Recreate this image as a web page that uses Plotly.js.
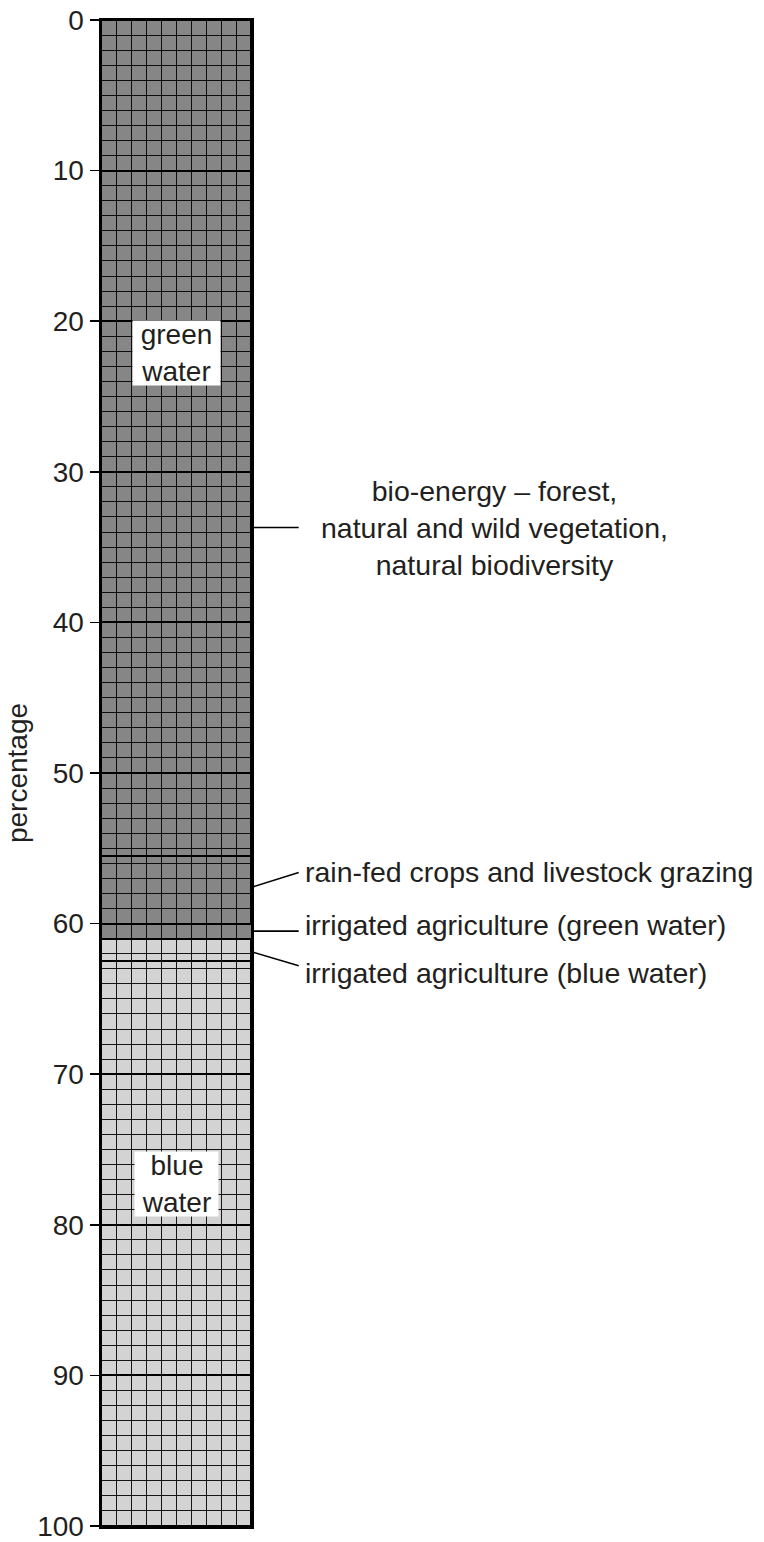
<!DOCTYPE html>
<html>
<head>
<meta charset="utf-8">
<script src="https://cdn.plot.ly/plotly-3.0.1.min.js"></script>
<style>html,body{margin:0;padding:0;background:#fff;}</style>
</head>
<body>
<div id="chart" style="width:764px;height:1542px;"></div>
<script>
// ---- data ----
const segmentNames = [
  'bio-energy – forest, natural and wild vegetation, natural biodiversity',
  'rain-fed crops and livestock grazing',
  'irrigated agriculture (green water)',
  'irrigated agriculture (blue water)',
  'blue water (other)'
];
const segmentValues = [55.5, 4.5, 1, 1.5, 37.5];
const segmentWater = ['green', 'green', 'green', 'blue', 'blue'];
const yTickValues = [0, 10, 20, 30, 40, 50, 60, 70, 80, 90, 100];
const yTickLabels = ['0', '10', '20', '30', '40', '50', '60', '70', '80', '90', '100'];
const waterLabels = ['green<br>water', 'blue<br>water'];
const rightLabels = [
  'bio-energy – forest,<br>natural and wild vegetation,<br>natural biodiversity',
  'rain-fed crops and livestock grazing',
  'irrigated agriculture (green water)',
  'irrigated agriculture (blue water)'
];

// ---- placement / style (not data) ----
const waterLabelY = [22.1, 77.3];
const waterLabelW = [87, 83];
const rightLabelY = [33.7, 56.6, 60.1, 63.25];
const leaderFromY = [33.7, 57.6, 60.5, 61.86];
const leaderToY = [33.7, 56.6, 60.5, 62.8];
const fillFor = {green: 'rgba(0,0,0,0.475)', blue: 'rgba(0,0,0,0.172)'};
const outlineW = [2, 2, 1, 2, 2];
const FONT = '"Liberation Sans", Arial, Helvetica, sans-serif';
const TXT = '#231f20';

const traces = segmentValues.map((v, i) => ({
  type: 'bar',
  x: [5],
  y: [v],
  width: [10],
  name: segmentNames[i],
  marker: {color: fillFor[segmentWater[i]], line: {color: '#000', width: outlineW[i]}},
  hoverinfo: 'name+y',
  showlegend: false
}));

const annotations = [];
waterLabels.forEach((t, i) => {
  annotations.push({
    xref: 'x', yref: 'y', x: 5, y: waterLabelY[i], text: t, showarrow: false,
    bgcolor: '#fff', width: waterLabelW[i], height: 64, borderpad: 0,
    font: {family: FONT, size: 28, color: TXT}, align: 'center'
  });
});
rightLabels.forEach((t, i) => {
  const isFirst = i === 0;
  annotations.push({
    xref: 'paper', yref: 'y',
    x: isFirst ? 2.62 : 1.345,
    xanchor: isFirst ? 'center' : 'left',
    y: rightLabelY[i], yanchor: 'middle',
    text: t, showarrow: false, align: isFirst ? 'center' : 'left',
    font: {family: FONT, size: 28.5, color: TXT}
  });
});

const shapes = leaderFromY.map((y0, i) => ({
  type: 'line', xref: 'paper', yref: 'y',
  x0: 1, x1: 1.318, y0: y0, y1: leaderToY[i],
  line: {color: '#000', width: 1.6}, layer: 'above'
}));

const layout = {
  width: 764, height: 1542,
  margin: {l: 101, r: 513, t: 20, b: 16},
  paper_bgcolor: '#fff', plot_bgcolor: '#fff',
  barmode: 'stack', bargap: 0,
  showlegend: false,
  font: {family: FONT, color: TXT},
  xaxis: {
    range: [0, 10], dtick: 1, tick0: 0, showgrid: true, gridcolor: '#1a1a1a', gridwidth: 1,
    zeroline: false, showticklabels: false, ticks: '',
    showline: true, mirror: true, linecolor: '#000', linewidth: 2.5, fixedrange: true
  },
  yaxis: {
    range: [100, 0], tickvals: yTickValues, ticktext: yTickLabels,
    ticks: 'outside', ticklen: 9, tickwidth: 1.6, tickcolor: '#000',
    tickfont: {family: FONT, size: 28, color: TXT},
    ticklabeloverflow: 'allow',
    showgrid: true, gridcolor: '#000', gridwidth: 2,
    minor: {dtick: 1, tick0: 0, showgrid: true, gridcolor: '#1a1a1a', gridwidth: 1, ticks: ''},
    zeroline: false, showline: true, mirror: true, linecolor: '#000', linewidth: 2.5,
    title: {text: 'percentage', font: {family: FONT, size: 28, color: TXT}, standoff: 2},
    automargin: false, fixedrange: true
  },
  annotations: annotations,
  shapes: shapes
};

Plotly.newPlot('chart', traces, layout, {staticPlot: true, displayModeBar: false});
</script>
</body>
</html>
